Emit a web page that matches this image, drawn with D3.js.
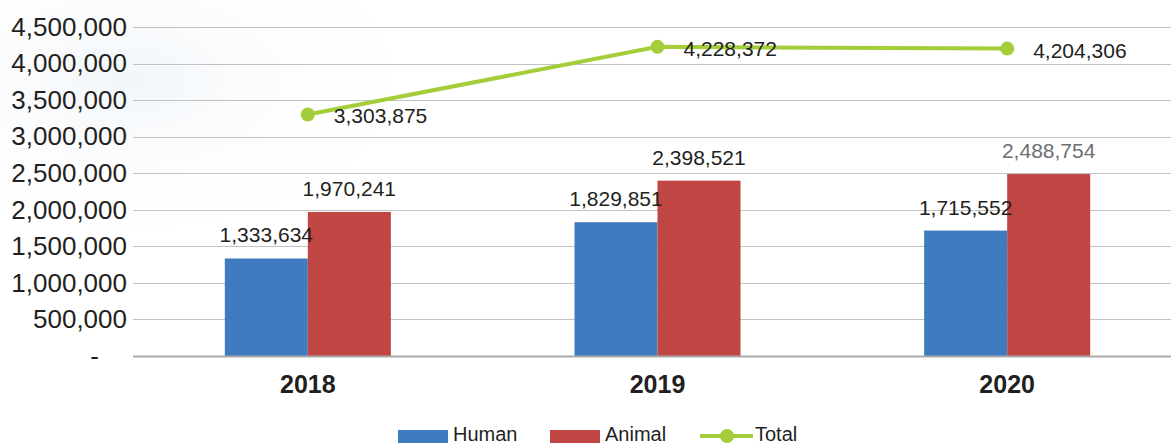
<!DOCTYPE html>
<html>
<head>
<meta charset="utf-8">
<script src="https://cdn.jsdelivr.net/npm/d3@7"></script>
<style>
  body { margin: 0; background: #fff; }
  svg { display: block; font-family: "Liberation Sans", Arial, sans-serif; }
</style>
</head>
<body>
<div id="chart"></div>
<script>
// data
var years = ["2018", "2019", "2020"];
var series = ["Human", "Animal"];
var human = [1333634, 1829851, 1715552];
var animal = [1970241, 2398521, 2488754];
var total = [3303875, 4228372, 4204306];
var yTicks = [0, 500000, 1000000, 1500000, 2000000, 2500000, 3000000, 3500000, 4000000, 4500000];

var colors = { Human: "#3f7bbf", Animal: "#c04643", Total: "#a3cd39" };

(function chart() {
  var W = 1171, H = 446;
  var plot = { left: 133, right: 1182, top: 27, bottom: 356 };

  var svg = d3.select("#chart").append("svg")
    .attr("width", W).attr("height", H);

  // faint background wash top-left
  var defs = svg.append("defs");
  var rg = defs.append("radialGradient").attr("id", "wash")
    .attr("cx", "50%").attr("cy", "50%").attr("r", "50%");
  rg.append("stop").attr("offset", "0%").attr("stop-color", "#eef3f8").attr("stop-opacity", 0.8);
  rg.append("stop").attr("offset", "100%").attr("stop-color", "#ffffff").attr("stop-opacity", 0);
  svg.append("ellipse").attr("cx", 130).attr("cy", 80).attr("rx", 300).attr("ry", 170)
    .style("fill", "url(#wash)");

  // scales
  var x0 = d3.scaleBand().domain(years).range([plot.left, plot.right]).padding(0);
  var x1 = d3.scaleBand().domain(series).range([0, x0.bandwidth()])
    .paddingInner(0).paddingOuter(1.106);
  var y = d3.scaleLinear().domain([0, 4500000]).range([plot.bottom, plot.top]);

  // gridlines
  svg.append("g").selectAll("line")
    .data(yTicks.filter(function(d) { return d > 0; }))
    .enter().append("line")
      .attr("x1", plot.left).attr("x2", W)
      .attr("y1", function(d) { return Math.round(y(d)) + 0.5; })
      .attr("y2", function(d) { return Math.round(y(d)) + 0.5; })
      .style("stroke", "#c2c2c2").style("stroke-width", 1.2);

  // y axis
  var yAxis = svg.append("g")
    .attr("transform", "translate(" + plot.left + ",0)")
    .call(d3.axisLeft(y).tickValues(yTicks).tickSize(0).tickPadding(6)
      .tickFormat(function(d) { return d === 0 ? "-" : d3.format(",")(d); }));
  yAxis.select(".domain").remove();
  yAxis.selectAll("text")
    .attr("font-family", "Liberation Sans, Arial, sans-serif")
    .attr("font-size", 26)
    .style("fill", "#231f20")
    .attr("dx", function(d) { return d === 0 ? -28 : 0; });

  // bars
  var groups = svg.append("g").selectAll("g")
    .data(years)
    .enter().append("g")
      .attr("transform", function(d) { return "translate(" + x0(d) + ",0)"; });

  groups.selectAll("rect")
    .data(function(d, i) { return [{ key: "Human", v: human[i] }, { key: "Animal", v: animal[i] }]; })
    .enter().append("rect")
      .attr("x", function(d) { return x1(d.key); })
      .attr("y", function(d) { return y(d.v); })
      .attr("width", x1.bandwidth())
      .attr("height", function(d) { return y(0) - y(d.v); })
      .style("fill", function(d) { return colors[d.key]; });

  // bottom axis line
  svg.append("line")
    .attr("x1", plot.left).attr("x2", W)
    .attr("y1", plot.bottom + 0.5).attr("y2", plot.bottom + 0.5)
    .style("stroke", "#a9a9ab").style("stroke-width", 2);

  // bar labels
  groups.selectAll(".lbl")
    .data(function(d, i) { return [{ key: "Human", v: human[i], yr: d }, { key: "Animal", v: animal[i], yr: d }]; })
    .enter().append("text")
      .attr("class", "lbl")
      .attr("x", function(d) { return x1(d.key) + x1.bandwidth() / 2; })
      .attr("y", function(d) { return y(d.v) - 16; })
      .attr("text-anchor", "middle")
      .style("font-size", "21px")
      .style("fill", function(d) { return (d.yr === "2020" && d.key === "Animal") ? "#6d6e71" : "#231f20"; })
      .text(function(d) { return d3.format(",")(d.v); });

  // x labels
  svg.append("g").selectAll("text")
    .data(years)
    .enter().append("text")
      .attr("x", function(d) { return x0(d) + x0.bandwidth() / 2; })
      .attr("y", 393)
      .attr("text-anchor", "middle")
      .style("font-size", "25px").style("font-weight", "bold").style("fill", "#231f20")
      .text(function(d) { return d; });

  // total line
  var cx = function(d, i) { return x0(years[i]) + x0.bandwidth() / 2; };
  var line = d3.line().x(cx).y(function(d) { return y(d); });

  svg.append("path")
    .datum(total)
    .attr("d", line)
    .style("fill", "none").style("stroke", colors.Total).style("stroke-width", 4);

  svg.append("g").selectAll("circle")
    .data(total)
    .enter().append("circle")
      .attr("cx", cx).attr("cy", function(d) { return y(d); })
      .attr("r", 7).style("fill", colors.Total);

  svg.append("g").selectAll("text")
    .data(total)
    .enter().append("text")
      .attr("x", function(d, i) { return cx(d, i) + 26; })
      .attr("y", function(d) { return y(d) + 9; })
      .style("font-size", "21px").style("fill", "#231f20")
      .text(function(d) { return d3.format(",")(d); });

  // legend
  var legend = svg.append("g");
  var legendItems = [
    { key: "Human", x: 398 },
    { key: "Animal", x: 550 },
    { key: "Total", x: 700 }
  ];
  legendItems.forEach(function(it) {
    if (it.key === "Total") {
      legend.append("line").attr("x1", it.x).attr("x2", it.x + 53)
        .attr("y1", 436).attr("y2", 436)
        .style("stroke", colors.Total).style("stroke-width", 4);
      legend.append("circle").attr("cx", it.x + 27).attr("cy", 436).attr("r", 7)
        .style("fill", colors.Total);
    } else {
      legend.append("rect").attr("x", it.x).attr("y", 430).attr("width", 50).attr("height", 13)
        .style("fill", colors[it.key]);
    }
    legend.append("text").attr("x", it.x + 55).attr("y", 441)
      .style("font-size", "20px").style("fill", "#231f20")
      .text(it.key);
  });
}());
</script>
</body>
</html>
